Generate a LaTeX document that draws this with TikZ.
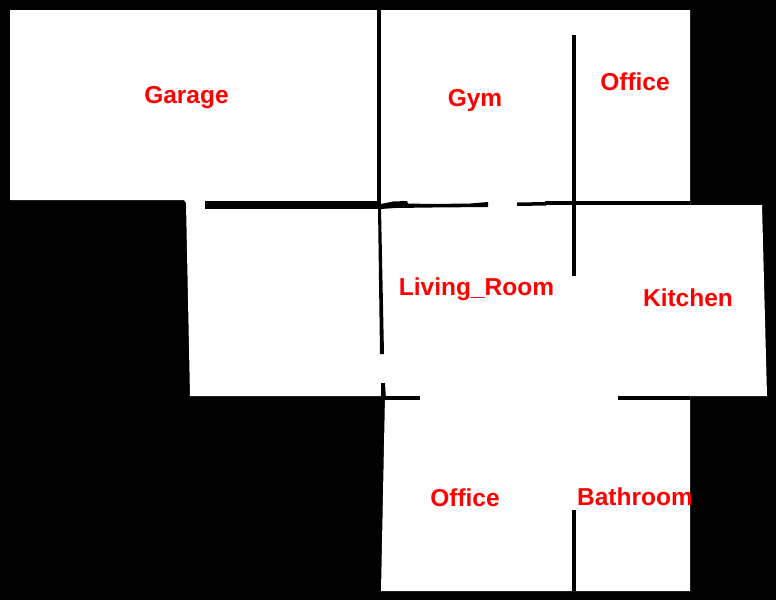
\documentclass[tikz,border=0pt]{standalone}
\usepackage{fontspec}
\setmainfont{Liberation Sans}
\begin{document}
\begin{tikzpicture}[x=1pt,y=-1pt,
  wall/.style={draw=none,fill=black},
  room/.style={text=red,font=\fontsize{24.5}{26}\selectfont\bfseries,inner sep=0pt,anchor=base}]
\useasboundingbox (0,0) rectangle (776,600);
\fill[black] (0,0) rectangle (776,600);
\fill[white] (10,10) -- (690,10) -- (690,201) -- (690,205) -- (762,205) -- (767,396)
  -- (690,396) -- (690,591) -- (381,591) -- (385,396) -- (190,396) -- (186,203) -- (184,200) -- (10,200) -- cycle;
% walls
\fill[wall] (205,201) rectangle (381,209);
\fill[wall] (377,10) rectangle (381,209);
\fill[wall] (378,207) -- (381,208.5) -- (384,354) -- (380,354) -- cycle;
\fill[wall] (381,383) -- (385,383) -- (386,400) -- (381,400) -- cycle;
\fill[wall] (381,204) -- (393,201.5) -- (407,201) -- (408,203.5) -- (432,204) -- (470,203.5) -- (488,202)
  -- (488,207) -- (432,207.5) -- (395,208) -- (381,209) -- cycle;
\fill[wall] (517,202.5) -- (546,202) -- (546,205.5) -- (517,206) -- cycle;
\fill[wall] (545,201) -- (690,201) -- (690,205) -- (545,205) -- cycle;
\fill[wall] (572,35) rectangle (576,276);
\fill[wall] (572,510) rectangle (576,591);
\fill[wall] (385,396) rectangle (420,400);
\fill[wall] (618,396) rectangle (690,400);
% labels
\node[room] (garage) at (186.5,103) {Garage};
\node[room] (gym) at (475,106) {Gym};
\node[room] (office1) at (635,90) {Office};
\node[room] (living) at (476.5,295) {Living\_Room};
\node[room] (kitchen) at (688,306) {Kitchen};
\node[room] (office2) at (465,506) {Office};
\node[room] (bathroom) at (635,505) {Bathroom};
\end{tikzpicture}
\end{document}
